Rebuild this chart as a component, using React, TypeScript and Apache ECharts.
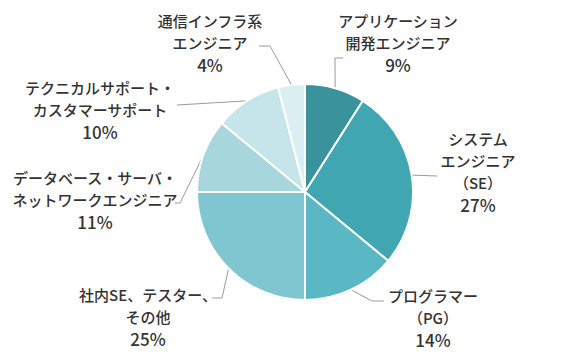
import React, { useEffect, useRef } from "react";
import * as echarts from "echarts";

const categories = [
  "アプリケーション\n開発エンジニア",
  "システム\nエンジニア\n（SE）",
  "プログラマー\n（PG）",
  "社内SE、テスター、\nその他",
  "データベース・サーバ・\nネットワークエンジニア",
  "テクニカルサポート・\nカスタマーサポート",
  "通信インフラ系\nエンジニア",
];
const values = [9, 27, 14, 25, 11, 10, 4];
const colors = ["#3a929c", "#40a6b2", "#5ab7c4", "#80c6d1", "#a7d6dd", "#c6e5ea", "#dbeef2"];

// label anchor positions and leader line bends (layout, not data)
const labelPos: [number, number][] = [
  [398, 42],
  [478, 171],
  [433, 317],
  [148, 316],
  [95, 199],
  [100, 109],
  [210, 42],
];
const lineBends: [number, number][][] = [
  [[335, 58], [343, 58]],
  [[437, 176]],
  [[372, 301], [384, 301]],
  [[222, 298], [212, 298]],
  [[180, 203], [175, 203]],
  [[177, 105]],
  [[270, 46], [259, 46]],
];

export default function App() {
  const ref = useRef<HTMLDivElement>(null);
  useEffect(() => {
    if (!ref.current) return;
    const chart = echarts.init(ref.current, null, { renderer: "svg" });
    chart.setOption({
      animation: false,
      color: colors,
      series: [
        {
          type: "pie",
          center: [305, 192],
          radius: 108,
          startAngle: 90,
          clockwise: true,
          itemStyle: { borderColor: "#fff", borderWidth: 2 },
          label: {
            show: true,
            formatter: "{b}\n{p|{c}%}",
            fontFamily: "Noto Sans CJK JP",
            fontSize: 15,
            fontWeight: 500,
            lineHeight: 22,
            color: "#333",
            align: "center",
            overflow: "none",
            width: 240,
            rich: {
              p: {
                fontFamily: "Noto Sans CJK JP",
                fontSize: 17,
                fontWeight: 500,
                lineHeight: 22,
                color: "#333",
                align: "center",
              },
            },
          },
          labelLine: { show: true, lineStyle: { color: "#9a9a9a", width: 1 } },
          labelLayout: (params: any) => {
            const i = params.dataIndex;
            const first = params.labelLinePoints ? params.labelLinePoints[0] : null;
            const pts = first ? [first, ...lineBends[i]] : undefined;
            return {
              x: labelPos[i][0],
              y: labelPos[i][1],
              align: "center",
              verticalAlign: "middle",
              labelLinePoints: pts,
            };
          },
          data: categories.map((n, i) => ({ name: n, value: values[i] })),
        },
      ],
    });
    return () => chart.dispose();
  }, []);
  return (
    <div
      ref={ref}
      style={{ position: "fixed", left: 0, top: 0, width: 585, height: 354, background: "#fff" }}
    />
  );
}
